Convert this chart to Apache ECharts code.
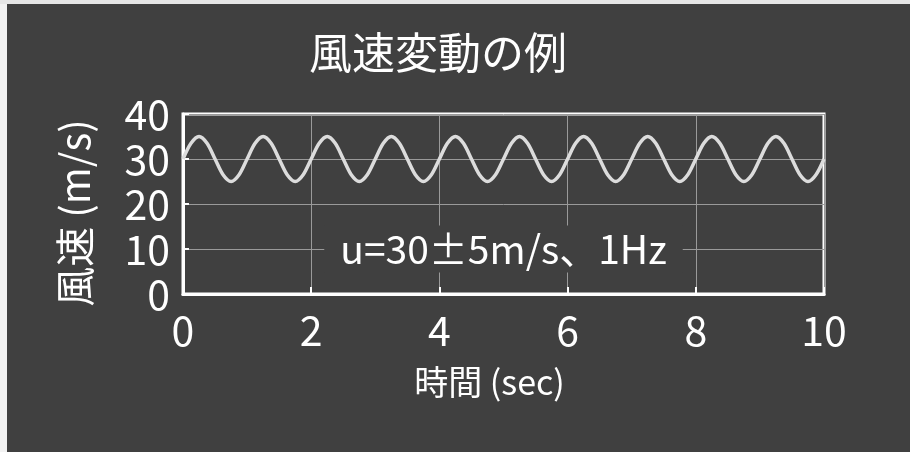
<!DOCTYPE html>
<html>
<head>
<meta charset="utf-8">
<script src="https://cdn.jsdelivr.net/npm/echarts@6/dist/echarts.min.js"></script>
<style>
  html, body { margin: 0; padding: 0; background: #ffffff; }
  #chart { width: 910px; height: 452px; }
</style>
</head>
<body>
<div id="chart"></div>
<script>
// 時間 (sec), 1/8 秒ごと
const times = [
  0, 0.125, 0.25, 0.375, 0.5, 0.625, 0.75, 0.875,
  1, 1.125, 1.25, 1.375, 1.5, 1.625, 1.75, 1.875,
  2, 2.125, 2.25, 2.375, 2.5, 2.625, 2.75, 2.875,
  3, 3.125, 3.25, 3.375, 3.5, 3.625, 3.75, 3.875,
  4, 4.125, 4.25, 4.375, 4.5, 4.625, 4.75, 4.875,
  5, 5.125, 5.25, 5.375, 5.5, 5.625, 5.75, 5.875,
  6, 6.125, 6.25, 6.375, 6.5, 6.625, 6.75, 6.875,
  7, 7.125, 7.25, 7.375, 7.5, 7.625, 7.75, 7.875,
  8, 8.125, 8.25, 8.375, 8.5, 8.625, 8.75, 8.875,
  9, 9.125, 9.25, 9.375, 9.5, 9.625, 9.75, 9.875,
  10
];
// 風速 (m/s)
const speeds = [
  30, 33.5, 35, 33.5, 30, 26.5, 25, 26.5,
  30, 33.5, 35, 33.5, 30, 26.5, 25, 26.5,
  30, 33.5, 35, 33.5, 30, 26.5, 25, 26.5,
  30, 33.5, 35, 33.5, 30, 26.5, 25, 26.5,
  30, 33.5, 35, 33.5, 30, 26.5, 25, 26.5,
  30, 33.5, 35, 33.5, 30, 26.5, 25, 26.5,
  30, 33.5, 35, 33.5, 30, 26.5, 25, 26.5,
  30, 33.5, 35, 33.5, 30, 26.5, 25, 26.5,
  30, 33.5, 35, 33.5, 30, 26.5, 25, 26.5,
  30, 33.5, 35, 33.5, 30, 26.5, 25, 26.5,
  30
];
const xTicks = [0, 2, 4, 6, 8, 10];
const yTicks = [0, 10, 20, 30, 40];
const titleText = '風速変動の例';
const xName = '時間 (sec)';
const yName = '風速 (m/s)';
const noteText = 'u=30±5m/s、1Hz';
const noteAt = [5, 10];

const FONT = '"Noto Sans CJK JP", "Noto Sans", sans-serif';
const BG = '#404040';

const chart = echarts.init(document.getElementById('chart'));
chart.setOption({
  backgroundColor: BG,
  animation: false,
  textStyle: { fontFamily: FONT },
  title: {
    text: titleText,
    left: 304,
    top: 26,
    textStyle: { color: '#ffffff', fontSize: 43, fontWeight: 'normal', fontFamily: FONT }
  },
  graphic: [
    { type: 'rect', left: 0, top: 0, shape: { width: 7, height: 452 }, style: { fill: '#f2f2f2' } },
    { type: 'rect', left: 0, top: 0, shape: { width: 910, height: 4 }, style: { fill: '#e6e6e6' } }
  ],
  grid: {
    left: 183, top: 114, right: 86, bottom: 158,
    show: true, borderColor: '#ffffff', borderWidth: 3
  },
  xAxis: {
    type: 'value',
    min: xTicks[0], max: xTicks[xTicks.length - 1], interval: 2,
    name: xName,
    nameLocation: 'middle',
    nameGap: 71,
    nameTextStyle: { color: '#ffffff', fontSize: 34, padding: [0, 28, 0, 0] },
    axisLine: { lineStyle: { color: '#ffffff', width: 3 } },
    axisTick: { inside: true, length: 7, lineStyle: { color: '#ffffff', width: 2 } },
    axisLabel: { color: '#ffffff', fontSize: 41, margin: 16 },
    splitLine: { show: true, lineStyle: { color: '#9a9a9a', width: 1 } }
  },
  yAxis: {
    type: 'value',
    min: yTicks[0], max: yTicks[yTicks.length - 1], interval: 10,
    name: yName,
    nameLocation: 'middle',
    nameRotate: 90,
    nameGap: 88,
    nameTextStyle: { color: '#ffffff', fontSize: 40, padding: [0, 18, 0, 0] },
    axisLine: { show: true, lineStyle: { color: '#ffffff', width: 3 } },
    axisTick: { show: true, inside: true, length: 6, lineStyle: { color: '#ffffff', width: 2 } },
    axisLabel: { color: '#ffffff', fontSize: 41, margin: 13 },
    splitLine: { show: true, lineStyle: { color: '#9a9a9a', width: 1 } }
  },
  series: [{
    type: 'line',
    data: times.map((t, i) => [t, speeds[i]]),
    smooth: 0.3,
    symbol: 'none',
    lineStyle: { color: '#dcdcdc', width: 3.5 },
    markPoint: {
      symbol: 'rect',
      symbolSize: 0,
      data: [{ coord: noteAt }],
      label: {
        show: true,
        formatter: noteText,
        color: '#ffffff',
        fontSize: 39,
        fontFamily: FONT,
        backgroundColor: BG,
        padding: [4, 16, 4, 16],
        position: 'inside'
      }
    }
  }]
});
</script>
</body>
</html>
